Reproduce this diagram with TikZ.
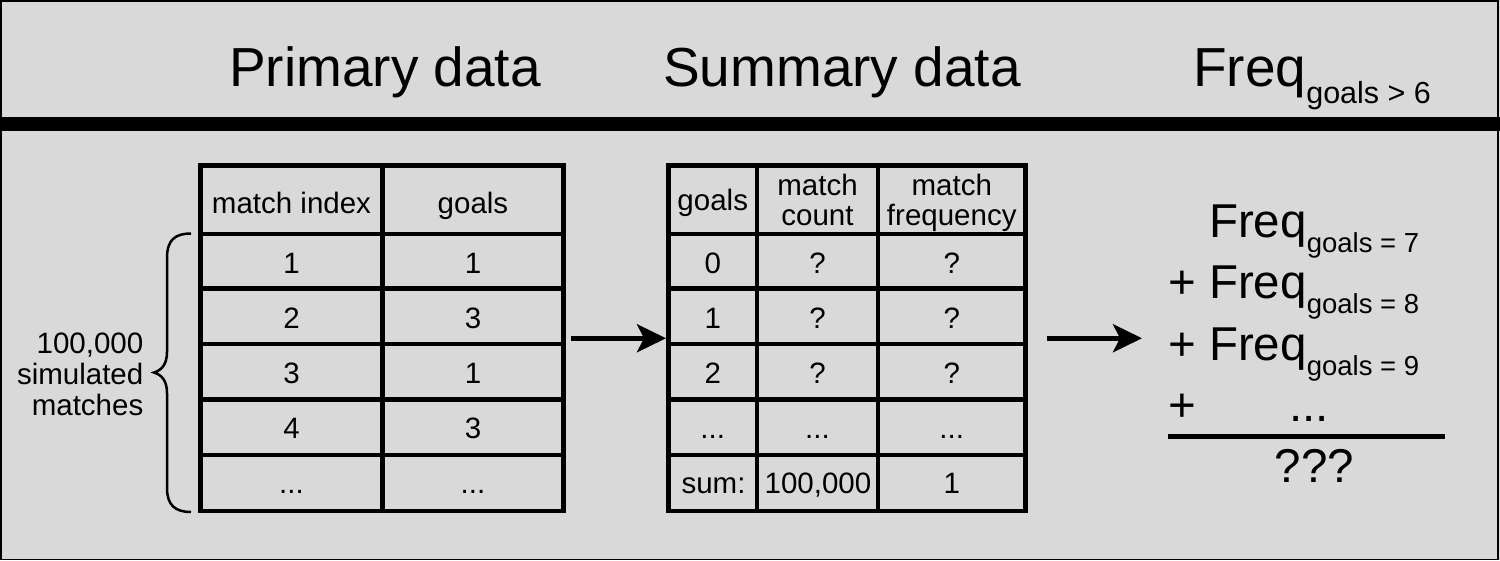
\documentclass[tikz,border=0pt]{standalone}
\usepackage{fontspec}
\setmainfont{Liberation Sans}
\usetikzlibrary{arrows.meta}
\definecolor{bggray}{RGB}{217,217,217}
\newcommand\myCellFont{\fontsize{29.5}{30}\selectfont}
\newcommand\myLabelFont{\fontsize{29.5}{31}\selectfont}
\newcommand\myTitleFont{\fontsize{55}{60}\selectfont}
\newcommand\myTitleSubFont{\fontsize{30.5}{32}\selectfont}
\newcommand\myBigFont{\fontsize{47.5}{50}\selectfont}
\newcommand\mySubFont{\fontsize{27.5}{30}\selectfont}
\tikzset{
  tline/.style={line width=4.5pt},
  tframe/.style={draw, line width=4.5pt, inner sep=0pt, outer sep=0pt},
  cell/.style={anchor=base, inner sep=0pt, font=\myCellFont},
  ttl/.style={anchor=base, inner sep=0pt, font=\myTitleFont},
  frm/.style={anchor=base west, inner sep=0pt, font=\myBigFont},
  arr/.style={line width=4.5pt, -{Stealth[length=29pt,width=28pt,inset=7pt]}},
}
\begin{document}
\begin{tikzpicture}[x=1pt,y=-1pt]
\useasboundingbox (0,0) rectangle (1500,560);
\fill[bggray] (0,0) rectangle (1500,560);
\draw[line width=1.5pt] (0.75,0.75) rectangle (1498,559.25);
\fill[black] (0,117) rectangle (1500,131);

% titles
\node[ttl] (t1) at (385,86) {Primary data};
\node[ttl] (t2) at (842,86) {Summary data};
\node[ttl, anchor=base west] (t3) at (1193,86) {Freq\raisebox{-17pt}{\myTitleSubFont goals > 6}};

% primary table
\node[tframe, minimum width=363pt, minimum height=345.5pt] (T1) at (382,338.25) {};
\foreach \yy in {234,288.5,344,399.5,455} \draw[tline] (200.5,\yy) -- (563.5,\yy);
\draw[tline] (382.5,165.5) -- (382.5,511);
\node[cell] (p0a) at (291.5,213) {match index};
\node[cell] (p0b) at (473,213) {goals};
\node[cell] (p1a) at (291.5,273) {1};
\node[cell] (p1b) at (473,273) {1};
\node[cell] (p2a) at (291.5,328) {2};
\node[cell] (p2b) at (473,328) {3};
\node[cell] (p3a) at (291.5,383) {3};
\node[cell] (p3b) at (473,383) {1};
\node[cell] (p4a) at (291.5,438) {4};
\node[cell] (p4b) at (473,438) {3};
\node[cell] (p5a) at (291.5,493) {...};
\node[cell] (p5b) at (473,493) {...};

% brace and label
\draw[line width=2.5pt] (191,233.5) .. controls (175,233.5) and (167,240) .. (167,258)
  -- (167,352) .. controls (167,364) and (162,370) .. (154,372.5)
  .. controls (162,375) and (167,381) .. (167,393)
  -- (167,488) .. controls (167,505) and (175,512) .. (191,512);
\node[anchor=base east, inner sep=0pt, font=\myLabelFont] (lab) at (143.5,353)
  {\begin{tabular}[t]{@{}r@{}}100,000\\simulated\\matches\end{tabular}};

% summary table
\node[tframe, minimum width=357pt, minimum height=345.5pt] (T2) at (847,338.25) {};
\foreach \yy in {234,288.5,344,399.5,455} \draw[tline] (668.5,\yy) -- (1025.5,\yy);
\draw[tline] (757,165.5) -- (757,511);
\draw[tline] (878,165.5) -- (878,511);
\node[cell] (s0a) at (712.75,210) {goals};
\node[cell] (s0b) at (817.5,195) {\begin{tabular}[t]{@{}c@{}}match\\count\end{tabular}};
\node[cell] (s0c) at (951.75,195) {\begin{tabular}[t]{@{}c@{}}match\\frequency\end{tabular}};
\node[cell] (s1a) at (712.75,273) {0};
\node[cell] (s1b) at (817.5,273) {?};
\node[cell] (s1c) at (951.75,273) {?};
\node[cell] (s2a) at (712.75,328) {1};
\node[cell] (s2b) at (817.5,328) {?};
\node[cell] (s2c) at (951.75,328) {?};
\node[cell] (s3a) at (712.75,383) {2};
\node[cell] (s3b) at (817.5,383) {?};
\node[cell] (s3c) at (951.75,383) {?};
\node[cell] (s4a) at (712.75,438) {...};
\node[cell] (s4b) at (817.5,438) {...};
\node[cell] (s4c) at (951.75,438) {...};
\node[cell] (s5a) at (713.5,493) {sum:};
\node[cell] (s5b) at (818,493) {100,000};
\node[cell] (s5c) at (951.75,493) {1};

% arrows
\draw[arr] ([xshift=7.5pt]T1.east) -- ([xshift=-2.5pt]T2.west);
\coordinate (F) at (1142,338.25);
\draw[arr] ([xshift=21.5pt]T2.east) -- (F);

% formula
\node[frm] (f1) at (1168,237) {\phantom{+ }Freq\raisebox{-15pt}{\mySubFont goals = 7}};
\node[frm] (f2) at (1168,298) {+ Freq\raisebox{-15pt}{\mySubFont goals = 8}};
\node[frm] (f3) at (1168,360) {+ Freq\raisebox{-15pt}{\mySubFont goals = 9}};
\node[frm] (f4) at (1168,421) {+};
\node[frm, anchor=base] (f5) at (1309,421) {...};
\draw[line width=5pt] (1168,436) -- (1445,436);
\node[frm, anchor=base] (res) at (1314.5,482) {???};
\end{tikzpicture}
\end{document}
